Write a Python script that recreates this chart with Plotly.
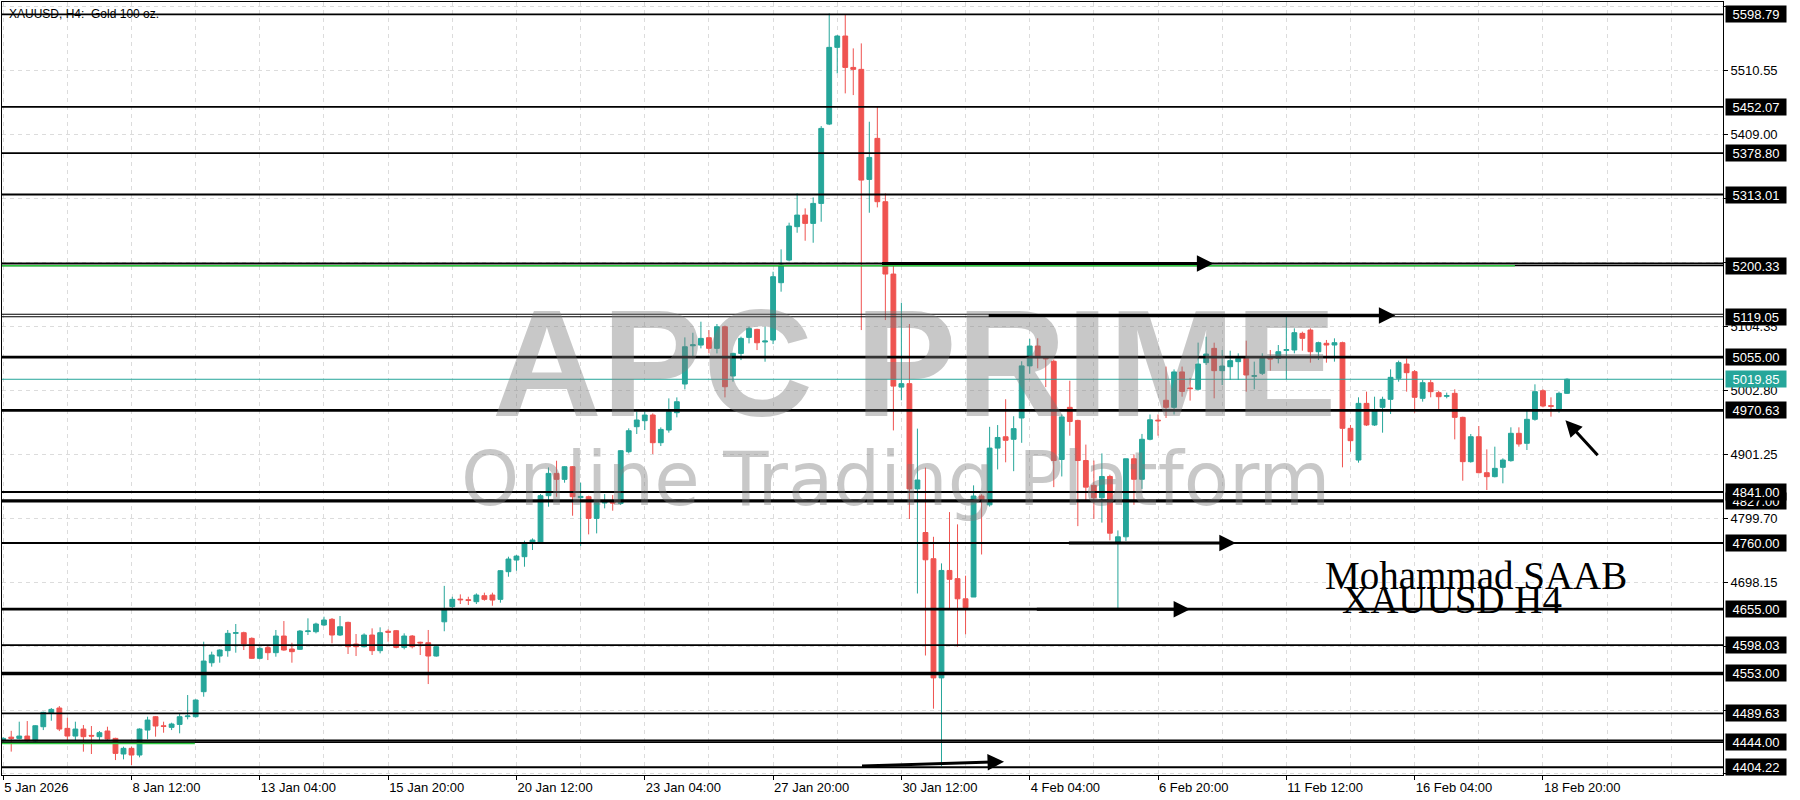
import plotly.graph_objects as go

# ---------------- data ----------------
bars = list(range(196))

opens = [4447, 4452, 4450, 4453.7, 4446, 4468.5, 4489.7, 4498.2, 4465.9, 4453.7,
         4464.8, 4454.7, 4452.7, 4461.7, 4450, 4425.2, 4434.2, 4423.6, 4463.2, 4484.4,
         4470, 4467.5, 4472.2, 4484.5, 4484.4, 4524.1, 4570, 4580.7, 4589.2, 4616.7,
         4617.7, 4608.7, 4577, 4594, 4586, 4612.4, 4591.8, 4591.3, 4619.5, 4619.3,
         4629.9, 4638.9, 4614, 4634.1, 4599.7, 4595.5, 4614, 4589.2, 4620, 4620.9,
         4594.4, 4612.4, 4602.5, 4601.8, 4580.7, 4635, 4659, 4671, 4670, 4666.9,
         4676.4, 4677.5, 4670.6, 4714.5, 4733, 4738.3, 4759.5, 4760.5, 4835.1, 4870.5,
         4861, 4881.1, 4832, 4833.5, 4799.1, 4823.5, 4825, 4822.9, 4904.9, 4944.6,
         4954.1, 4963.1, 4919.2, 4939.3, 4966.8, 5012.3, 5073, 5074.1, 5085.8, 5068.9,
         5103.2, 5025, 5060.9, 5086.3, 5099, 5079, 5082.1, 5173.1, 5209, 5262,
         5280.4, 5267.2, 5298.9, 5424.8, 5546.5, 5564.5, 5514.7, 5511.6, 5337, 5402.1,
         5301.6, 5186.8, 5007.4, 5012.9, 4845.9, 4776.7, 4735.1, 4546, 4716.5, 4703.5,
         4671.5, 4674.3, 4834.6, 4820.6, 4910.6, 4928.6, 4924.6, 4958.4, 5041.1, 5072.6,
         5054, 5048.4, 4892.6, 4975.3, 4954.5, 4890.9, 4851.5, 4831.8, 4865.6, 4761.5,
         4769.9, 4893.7, 4861.1, 4924.6, 4955, 4986.5, 4975.3, 5031.5, 5006, 5004,
         5046.2, 5068.9, 5033.5, 5039.8, 5047.8, 5053, 5024.5, 5029.3, 5054, 5053,
         5065.7, 5066.3, 5092.7, 5098, 5063.6, 5076.9, 5074.2, 5077.9, 4942, 4891.7,
         4981.6, 4947.3, 4975.3, 4988, 5021.3, 5044, 5031.9, 4989.6, 5014.4, 4998.6,
         4992.8, 4997.5, 4959.4, 4889.1, 4928.7, 4871.6, 4865.3, 4880.1, 4890.7, 4934.1,
         4918.2, 4956.3, 5001.7, 4978, 4972.1, 4997.5]

highs = [4452, 4462, 4476.5, 4477.5, 4471, 4492.3, 4498.2, 4501.3, 4482.8, 4476.5,
         4471.2, 4469.6, 4461.7, 4468.5, 4451, 4436.8, 4436.8, 4465.9, 4484.4, 4485.5,
         4476.5, 4474.9, 4489.7, 4518.8, 4511.9, 4603.4, 4587.6, 4591.3, 4622, 4631.5,
         4619.3, 4610.3, 4595.5, 4598.1, 4622, 4636.2, 4601.8, 4622, 4640.5, 4633.6,
         4643.1, 4641, 4644.2, 4635.2, 4615.6, 4616.7, 4624.6, 4626.2, 4623, 4622,
         4616.7, 4614, 4603.4, 4622, 4598.1, 4692, 4674.8, 4678.5, 4674.8, 4680.1,
         4681.2, 4681.2, 4717.1, 4738.3, 4740.9, 4763.7, 4767.4, 4837.7, 4880, 4890.6,
         4882.2, 4882.2, 4855.7, 4835.1, 4825.6, 4837.7, 4836.1, 4907.6, 4942, 4968.4,
         4968.4, 4965.7, 4943.5, 4989.5, 4991.1, 5086.3, 5093.7, 5111.2, 5097.9, 5107.5,
         5105, 5062, 5087.4, 5103.2, 5100, 5103.2, 5190.5, 5226, 5268.3, 5314.8,
         5291, 5308.4, 5421.6, 5600.4, 5566.1, 5597.8, 5544.9, 5552.8, 5428.5, 5453.4,
         5314.8, 5201, 5141.3, 5107.5, 4941.5, 4879.7, 4769.9, 4727.7, 4809.1, 4789.6,
         4708.1, 4851.5, 4837.4, 4944.4, 4947.2, 4988.2, 4961.2, 5048.4, 5083.9, 5084.9,
         5056.9, 5051.2, 4964, 5017.5, 4955.6, 4916.2, 4890.9, 4902.2, 4868.4, 4780,
         4893.7, 4900.5, 4933.1, 4964, 4964, 5040, 5035.5, 5040, 5022, 5078,
         5087.4, 5077.9, 5066.3, 5065.2, 5061, 5081.1, 5047.8, 5061, 5066.3, 5074.2,
         5121.8, 5100.7, 5095.4, 5100.7, 5079.5, 5082.2, 5084.8, 5079.5, 4947.3, 4991.2,
         5000.2, 4992.2, 4992.2, 5035.6, 5049.4, 5053, 5034.5, 5018.7, 5018.7, 5001.7,
         4998.6, 5003.9, 4960.5, 4933, 4945.7, 4908.6, 4912.9, 4894.4, 4943.6, 4943.6,
         4972.1, 5011.8, 5003.9, 4991.2, 5000.2, 5021.3]

lows = [4443, 4429, 4448.4, 4445, 4444.7, 4463.2, 4478, 4461.6, 4447.4, 4447.4,
        4428.9, 4425.2, 4447.4, 4447.4, 4415.6, 4416.7, 4407.7, 4419.9, 4448.4, 4452.7,
        4459, 4463.2, 4458, 4480.2, 4483.3, 4516.1, 4563.8, 4570.1, 4579.6, 4586,
        4590.2, 4576, 4575.4, 4574.3, 4579.6, 4589, 4570.1, 4590.2, 4614, 4616.7,
        4628.3, 4600.8, 4612.4, 4583.9, 4580.7, 4594.4, 4582.3, 4584.9, 4603.4, 4592.8,
        4591.3, 4592.8, 4582.3, 4536.2, 4579.6, 4620, 4656.3, 4663.2, 4661.6, 4663.2,
        4668.5, 4660.5, 4665.3, 4706.5, 4716.1, 4722.4, 4748.9, 4759.4, 4817.6, 4833.5,
        4855.7, 4803.3, 4755.2, 4773.7, 4775.3, 4815, 4811.3, 4820.3, 4902.3, 4933,
        4939.3, 4901.2, 4913.9, 4935.1, 4959.4, 5003.8, 5053, 5068.9, 5060.9, 5060.9,
        4991.1, 5016, 5050.3, 5076.8, 5066.2, 5047.7, 5075.7, 5158.8, 5207, 5252.4,
        5239.7, 5236.5, 5269.8, 5423.2, 5505.2, 5473.5, 5470.8, 5097.9, 5284.1, 5292.6,
        5113.8, 4938.7, 4986.5, 4798.1, 4679.9, 4581.5, 4497.1, 4406, 4654.6, 4595.5,
        4615.2, 4674.3, 4741.8, 4817.8, 4876.8, 4888.1, 4874, 4919, 5028.7, 5037.2,
        5007.4, 4848.7, 4865.6, 4930.3, 4786.8, 4826.2, 4798.1, 4792.4, 4764.3, 4654.6,
        4763.2, 4820.6, 4845.9, 4923, 4930.3, 4958.4, 4964, 4992.2, 4986, 5002,
        5042.5, 4989.6, 5010.7, 5018.7, 5018.7, 5000.2, 5003.9, 5026.6, 5033.5, 5045.1,
        5019.7, 5061, 5065.2, 5046.2, 5050.4, 5046.2, 5047.8, 4880.1, 4904.9, 4887.5,
        4945.7, 4945.7, 4935.1, 4964.7, 5016, 5000.2, 4966.8, 4984.3, 4991.2, 4971,
        4989.6, 4924.5, 4858.9, 4887.5, 4870.6, 4844.1, 4864.2, 4854.7, 4889.1, 4912.9,
        4907.6, 4954.1, 4975.3, 4960.5, 4966.8, 4996.5]

closes = [4450, 4450, 4453.7, 4446.3, 4470.1, 4491.3, 4496.0, 4464.8, 4453.7, 4464.8,
          4452.7, 4453.7, 4459, 4449, 4426.2, 4434.2, 4423.6, 4464.8, 4479.1, 4469.6,
          4469, 4472.8, 4484.4, 4485.5, 4510.9, 4572.7, 4582.3, 4590.2, 4616.7, 4617.7,
          4599.7, 4577, 4592.8, 4586, 4612.4, 4590.2, 4587.6, 4620.3, 4620.5, 4631.5,
          4637.8, 4614, 4627.2, 4595.5, 4595.5, 4614, 4589.2, 4617.7, 4618.5, 4594.4,
          4612.4, 4595.5, 4601.5, 4580.7, 4595.5, 4656, 4670.6, 4670, 4669, 4677.5,
          4670.6, 4669.5, 4716.1, 4734.6, 4739.3, 4760.5, 4764.7, 4835.1, 4870.5, 4861,
          4881.1, 4833.5, 4834, 4799.1, 4824, 4824.5, 4823.5, 4906.5, 4938.2, 4955.2,
          4963.1, 4919.2, 4940.3, 4968.4, 4984.2, 5071.5, 5074.5, 5084.7, 5068.9, 5103.2,
          5008, 5060.9, 5084.7, 5100.6, 5077.8, 5080.5, 5182.6, 5201.1, 5263, 5280.4,
          5267.2, 5298.9, 5417.9, 5546.5, 5564.5, 5514.7, 5511.6, 5335.9, 5371.9, 5301.6,
          5186.8, 5009, 5012.9, 4845.9, 4860, 4733.4, 4546, 4716.5, 4702.4, 4671.5,
          4657.4, 4834.6, 4826.2, 4910.6, 4927.5, 4923, 4941.5, 5041.1, 5072.6, 5054,
          5052.4, 4890.9, 4960.1, 4952.8, 4890.9, 4848.7, 4831.8, 4865.6, 4775.6, 4769.9,
          4893.7, 4861.1, 4924.6, 4955.6, 4954, 4975.3, 5031.5, 5000.6, 5005, 5044,
          5059.9, 5033.5, 5040.9, 5049.4, 5053, 5026.6, 5025.5, 5053, 5052, 5063.6,
          5066.8, 5093.8, 5084.8, 5063.6, 5077.9, 5074.2, 5077.9, 4942, 4922.4, 4981.6,
          4947.3, 4971, 4988, 5022.9, 5046.2, 5030.3, 4991.2, 5014.4, 5000.2, 4992.2,
          4993.8, 4959.4, 4889.1, 4928.7, 4871.6, 4865.3, 4878.5, 4891.7, 4934.1, 4917.1,
          4956.3, 5000.2, 4977.4, 4977, 4997.5, 5019.85]

tick_bars = [0, 16, 32, 48, 64, 80, 96, 112, 128, 144, 160, 176, 192]
tick_labels = ["5 Jan 2026", "8 Jan 12:00", "13 Jan 04:00", "15 Jan 20:00", "20 Jan 12:00",
               "23 Jan 04:00", "27 Jan 20:00", "30 Jan 12:00", "4 Feb 04:00", "6 Feb 20:00",
               "11 Feb 12:00", "16 Feb 04:00", "18 Feb 20:00"]

grid_prices = [4393.50, 4495.05, 4596.60, 4698.15, 4799.70, 4901.25, 5002.80,
               5104.35, 5205.90, 5307.45, 5409.00, 5510.55, 5612.10]
# grid labels that sit under a level label in the reference (not shown)
hidden_grid_labels = [4393.50, 4495.05, 4596.60, 5205.90, 5307.45]

# horizontal levels drawn on the chart
level_prices = [5598.79, 5452.07, 5378.80, 5313.01, 5203.50, 5200.33, 5123.00, 5119.05,
                5055.00, 4970.63, 4841.00, 4827.00, 4760.00, 4655.00, 4598.03, 4553.00,
                4489.63, 4447.00, 4444.00, 4404.22]
label_prices = [5598.79, 5452.07, 5378.80, 5313.01, 5200.33, 5119.05, 5055.00, 4970.63,
                4827.00, 4841.00, 4760.00, 4655.00, 4598.03, 4553.00, 4489.63, 4444.00, 4404.22]
current_price = 5019.85

# green levels: (price, from bar, to bar)
green_prices = [5200.0, 4441.8]
green_from = [-1, -1]
green_to = [188.5, 23.9]

# arrows: tail (bar, price) -> tip (bar, price)
arrow_tail_x = [109.4, 122.7, 132.7, 128.7, 106.9, 199.0]
arrow_tail_y = [5203.5, 5121.0, 4760.0, 4655.0, 4406.0, 4897.0]
arrow_tip_x = [150.9, 173.6, 153.7, 148.0, 124.8, 194.8]
arrow_tip_y = [5203.5, 5121.0, 4760.0, 4655.0, 4413.0, 4955.0]

# ---------------- styles ----------------
UP = "#26a69a"
DOWN = "#ef5350"
level_width = {5598.79: 1.8, 5452.07: 1.8, 5378.80: 1.8, 5313.01: 1.8, 5203.50: 2.0,
               5200.33: 1.2, 5123.00: 1.2, 5119.05: 1.2, 5055.00: 2.7, 4970.63: 2.7,
               4841.00: 1.8, 4827.00: 3.3, 4760.00: 1.8, 4655.00: 2.8, 4598.03: 1.8,
               4553.00: 3.3, 4489.63: 1.8, 4447.00: 1.8, 4444.00: 1.8, 4404.22: 1.8}

fig = go.Figure()
fig.add_trace(go.Candlestick(
    x=bars, open=opens, high=highs, low=lows, close=closes,
    increasing=dict(line=dict(color=UP, width=1), fillcolor=UP),
    decreasing=dict(line=dict(color=DOWN, width=1), fillcolor=DOWN),
    whiskerwidth=0, hoverinfo="skip", showlegend=False))

shapes = []
for p in level_prices:
    shapes.append(dict(type="line", xref="paper", yref="y", x0=0, x1=1, y0=p, y1=p,
                       line=dict(color="black", width=level_width[p]), layer="above"))
for p, a, b in zip(green_prices, green_from, green_to):
    shapes.append(dict(type="line", xref="x", yref="y", x0=a, x1=b, y0=p, y1=p,
                       line=dict(color="#2ecc40", width=1.6), layer="above"))
shapes.append(dict(type="line", xref="paper", yref="y", x0=0, x1=1,
                   y0=current_price, y1=current_price,
                   line=dict(color=UP, width=1), layer="above"))

WM = "rgba(125,125,125,0.42)"
ann = []
# title
ann.append(dict(x=0, y=1, xref="paper", yref="paper", xanchor="left", yanchor="top",
                xshift=5, yshift=-3, text="XAUUSD, H4:  Gold 100 oz.", showarrow=False,
                font=dict(family="Liberation Sans", size=12, color="black")))
# watermark
ann.append(dict(x=0.5305, y=0.533, xref="paper", yref="paper", xanchor="center",
                yanchor="middle", text="APC PRIME", showarrow=False,
                font=dict(family="Liberation Sans", size=152, color=WM, weight="bold")))
ann.append(dict(x=0.5192, y=0.383, xref="paper", yref="paper", xanchor="center",
                yanchor="middle", text="Online Trading Platform", showarrow=False,
                font=dict(family="DejaVu Sans", size=74, color=WM)))
# signature
ann.append(dict(x=0.7674, y=0.2587, xref="paper", yref="paper", xanchor="left",
                yanchor="middle", text="Mohammad SAAB", showarrow=False,
                font=dict(family="Liberation Serif", size=39, color="black")))
ann.append(dict(x=0.7775, y=0.2264, xref="paper", yref="paper", xanchor="left",
                yanchor="middle", text="XAUUSD H4", showarrow=False,
                font=dict(family="Liberation Serif", size=39, color="black")))
# arrows
for tx, ty, hx, hy in zip(arrow_tail_x, arrow_tail_y, arrow_tip_x, arrow_tip_y):
    ann.append(dict(x=hx, y=hy, ax=tx, ay=ty, xref="x", yref="y", axref="x", ayref="y",
                    text="", showarrow=True, arrowhead=2, arrowsize=1.1, arrowwidth=3,
                    arrowcolor="black", standoff=0, startstandoff=0))
# price labels on the axis
for p in label_prices:
    ann.append(dict(x=1, y=p, xref="paper", yref="y", xanchor="left", yanchor="middle",
                    xshift=2, text=f"{p:.2f}", showarrow=False, bgcolor="black",
                    width=58, height=14, borderpad=1, align="center", valign="middle",
                    font=dict(family="Liberation Sans", size=13, color="white")))
ann.append(dict(x=1, y=current_price, xref="paper", yref="y", xanchor="left",
                yanchor="middle", xshift=2, text=f"{current_price:.2f}", showarrow=False,
                bgcolor=UP, width=58, height=14, borderpad=1, align="center",
                valign="middle", font=dict(family="Liberation Sans", size=13, color="white")))

GRID = "#dcdcdc"
fig.update_layout(
    width=1800, height=800,
    margin=dict(l=2, r=77, t=2, b=25),
    paper_bgcolor="white", plot_bgcolor="white",
    boxgap=0.25, boxgroupgap=0.2,
    shapes=shapes, annotations=ann, showlegend=False,
    xaxis=dict(range=[-0.15, 214.45], tickmode="array", tickvals=tick_bars, ticktext=tick_labels,
               ticks="outside", ticklen=4, tickcolor="black", ticklabelposition="outside right",
               showgrid=True, gridcolor=GRID, griddash="4px,4px", gridwidth=1,
               minor=dict(dtick=8, tick0=0, showgrid=True, gridcolor=GRID, griddash="4px,4px"),
               showline=True, mirror=True, linecolor="black", linewidth=1, zeroline=False,
               rangeslider=dict(visible=False),
               tickfont=dict(family="Liberation Sans", size=13, color="black")),
    yaxis=dict(side="right", range=[4391.9, 5618.5], tickmode="array", tickvals=grid_prices,
               ticktext=["" if v in hidden_grid_labels else f"{v:.2f}" for v in grid_prices],
               ticks="outside", ticklen=4,
               tickcolor="black", showgrid=True, gridcolor=GRID, griddash="4px,4px",
               showline=True, mirror=True, linecolor="black", linewidth=1, zeroline=False,
               tickfont=dict(family="Liberation Sans", size=13, color="black")),
)

fig.write_html("out.html", config={"displayModeBar": False},
               post_script="document.body.style.margin='0px';")
